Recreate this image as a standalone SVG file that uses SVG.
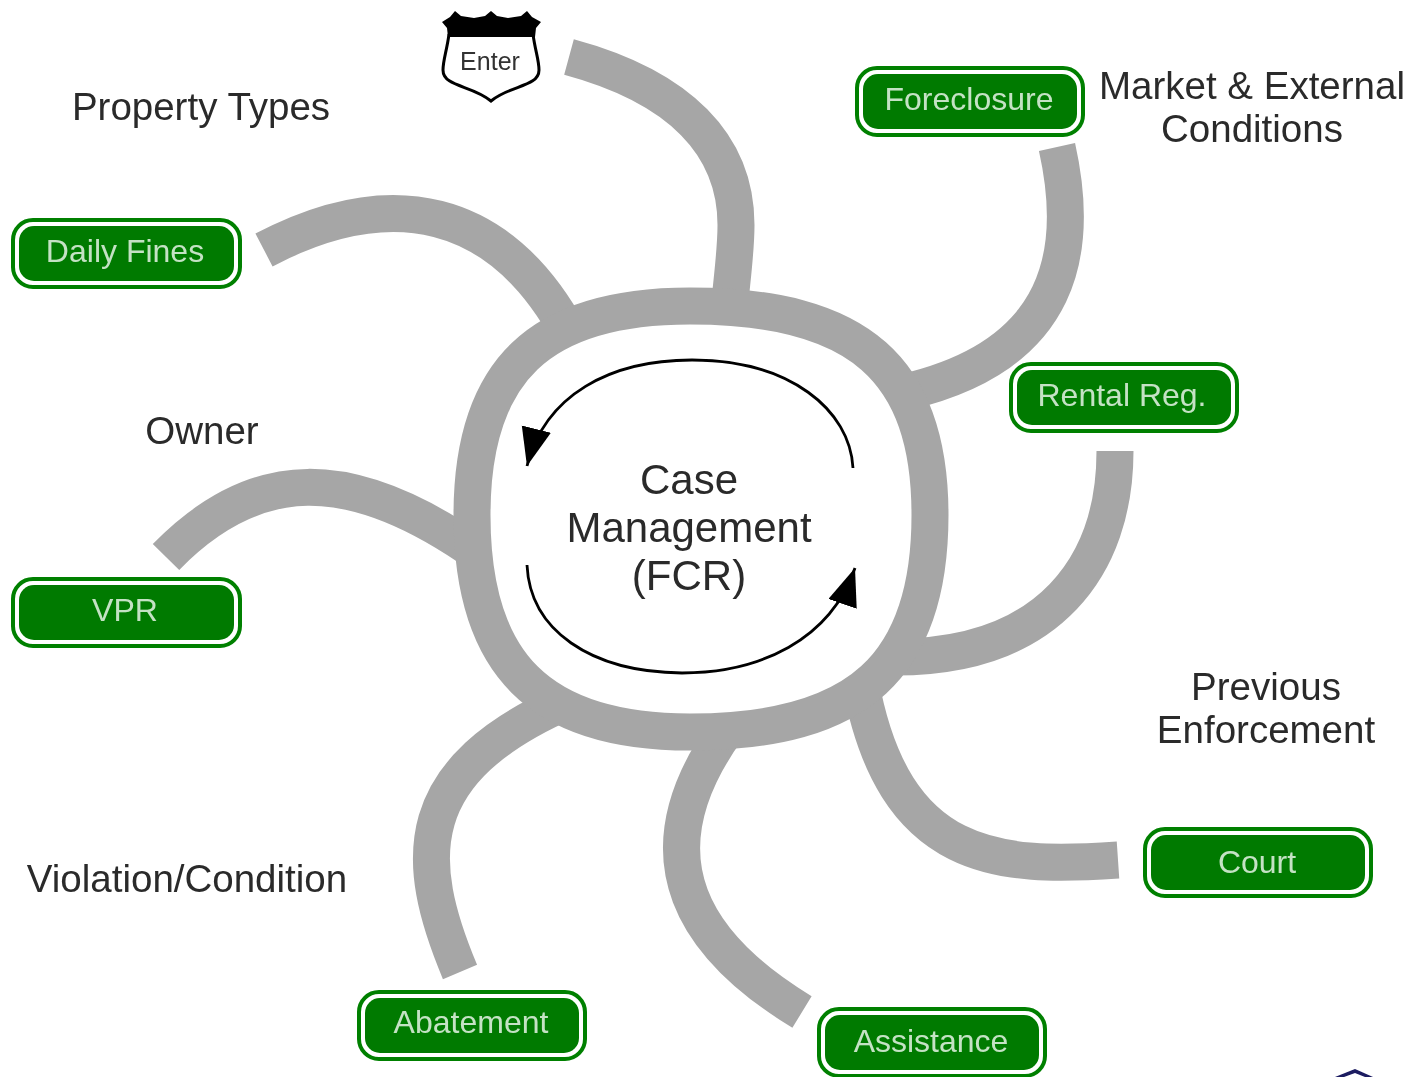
<svg xmlns="http://www.w3.org/2000/svg" width="1411" height="1077" viewBox="0 0 1411 1077">
<defs>
<filter id="soft" x="-5%" y="-5%" width="110%" height="110%"><feGaussianBlur stdDeviation="0.7"/></filter>
<marker id="tip" markerUnits="userSpaceOnUse" markerWidth="40" markerHeight="40" refX="38" refY="15" orient="auto"><path d="M0,0L38,15L0,30Z" fill="#000"/></marker>
</defs>
<style>
.spoke{fill:none;stroke:#a6a6a6;stroke-width:37}
.loop{fill:none;stroke:#000;stroke-width:2.8}
.lab{font-family:"Liberation Sans",Arial,sans-serif;font-size:38.5px;fill:#2a2a2a;text-anchor:middle}
.big{font-family:"Liberation Sans",Arial,sans-serif;font-size:42px;fill:#2a2a2a;text-anchor:middle}
.btn{font-family:"Liberation Sans",Arial,sans-serif;font-size:32px;fill:#c4e2c4;text-anchor:middle}
.o{fill:#fff;stroke:#008000;stroke-width:4}
.i{fill:#007a00}
</style>
<rect width="1411" height="1077" fill="#fff"/>
<g filter="url(#soft)">
<g id="connectors">
<path class="spoke" d="M569,57C680,87 736,145 736,225C736,250 733,270 729,310"/>
<path class="spoke" d="M1057,147C1080,250 1064,355 905,392"/>
<path class="spoke" d="M1115,451C1115,565 1050,657 895,657"/>
<path class="spoke" d="M1118,860C1000,868 893,865 860,680"/>
<path class="spoke" d="M802,1012C700,950 630,860 730,725"/>
<path class="spoke" d="M460,972C413,860 408,770 570,700"/>
<path class="spoke" d="M166,557C255,466 350,463 480,555"/>
<path class="spoke" d="M264,250C390,184 500,205 570,335"/>
<path id="ring" class="spoke" style="fill:#fff" d="M690,306C860,306 930,370 930,515C930,665 860,732 690,732C540,732 472,665 472,515C472,370 540,306 690,306Z"/>
<path class="loop" d="M853,468C850,410 790,360 692,360C610,360 545,395 527,466" marker-end="url(#tip)"/>
<path class="loop" d="M527,565C530,630 590,672 682,673C760,673 830,640 855,568" marker-end="url(#tip)"/>
</g>
<g id="center"><text class="big" x="689" y="494">Case</text><text class="big" x="689" y="542">Management</text><text class="big" x="689" y="590">(FCR)</text></g>
<g id="enter">
<path d="M449,34C447,50 443,60 443,70C443,87 472,85 491,101C510,85 539,87 539,70C539,60 535,50 533,34" fill="#fff" stroke="#000" stroke-width="3"/>
<path d="M442,22L450,17L455,11L461,16L474,18L485,16L491,11L497,16L508,18L521,16L527,11L532,17L541,22L536,28L535,37L448,37L447,28Z" fill="#000"/>
<text x="490" y="70" font-family="Liberation Sans,Arial,sans-serif" font-size="25" fill="#333" text-anchor="middle">Enter</text>
</g>
<g id="foreclosure"><rect class="o" x="857" y="68" width="226" height="67" rx="20"/><rect class="i" x="863" y="74" width="214" height="55" rx="15"/><text class="btn" x="969" y="110">Foreclosure</text></g>
<g id="rental"><rect class="o" x="1011" y="364" width="226" height="67" rx="20"/><rect class="i" x="1017" y="370" width="214" height="55" rx="15"/><text class="btn" x="1122" y="406">Rental Reg.</text></g>
<g id="daily"><rect class="o" x="13" y="220" width="227" height="67" rx="20"/><rect class="i" x="19" y="226" width="215" height="55" rx="15"/><text class="btn" x="125" y="262">Daily Fines</text></g>
<g id="vpr"><rect class="o" x="13" y="579" width="227" height="67" rx="20"/><rect class="i" x="19" y="585" width="215" height="55" rx="15"/><text class="btn" x="125" y="621">VPR</text></g>
<g id="court"><rect class="o" x="1145" y="829" width="226" height="67" rx="20"/><rect class="i" x="1151" y="835" width="214" height="55" rx="15"/><text class="btn" x="1257" y="873">Court</text></g>
<g id="abatement"><rect class="o" x="359" y="992" width="226" height="67" rx="20"/><rect class="i" x="365" y="998" width="214" height="55" rx="15"/><text class="btn" x="471" y="1033">Abatement</text></g>
<g id="assistance"><rect class="o" x="819" y="1009" width="226" height="67" rx="20"/><rect class="i" x="825" y="1015" width="214" height="55" rx="15"/><text class="btn" x="931" y="1052">Assistance</text></g>
<g id="labels">
<text class="lab" x="201" y="120">Property Types</text>
<text class="lab" x="202" y="444">Owner</text>
<text class="lab" x="187" y="892">Violation/Condition</text>
<text class="lab" x="1252" y="99">Market &amp; External</text>
<text class="lab" x="1252" y="142">Conditions</text>
<text class="lab" x="1266" y="700">Previous</text>
<text class="lab" x="1266" y="743">Enforcement</text>
</g>
<path id="corner" d="M1335,1077L1355,1069L1373,1077L1365,1077L1355,1073L1344,1077Z" fill="#1a1a60"/>
</g>
</svg>
